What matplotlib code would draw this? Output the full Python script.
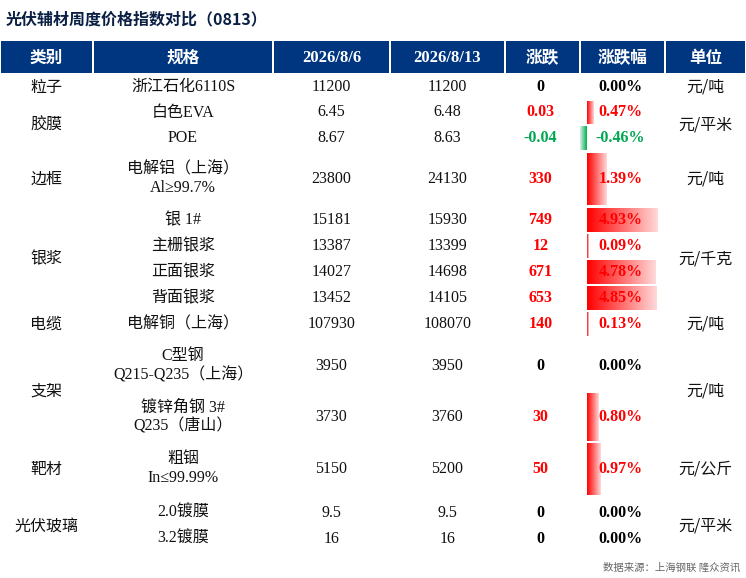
import matplotlib
matplotlib.use("Agg")
import matplotlib.pyplot as plt
import numpy as np

categories = ["粒子", "胶膜", "边框", "银浆", "电缆", "支架", "靶材", "光伏玻璃"]
specs = ["浙江石化6110S", "白色EVA", "POE", "电解铝（上海）\nAl≥99.7%", "银 1#", "主栅银浆", "正面银浆",
         "背面银浆", "电解铜（上海）", "C型钢\nQ215-Q235（上海）", "镀锌角钢 3#\nQ235（唐山）",
         "粗铟\nIn≤99.99%", "2.0镀膜", "3.2镀膜"]
prev = ["11200", "6.45", "8.67", "23800", "15181", "13387", "14027", "13452", "107930", "3950", "3730", "5150", "9.5", "16"]
curr = ["11200", "6.48", "8.63", "24130", "15930", "13399", "14698", "14105", "108070", "3950", "3760", "5200", "9.5", "16"]
change = ["0", "0.03", "-0.04", "330", "749", "12", "671", "653", "140", "0", "30", "50", "0", "0"]
pct = [0.00, 0.47, -0.46, 1.39, 4.93, 0.09, 4.78, 4.85, 0.13, 0.00, 0.80, 0.97, 0.00, 0.00]
headers = ["类别", "规格", "2026/8/6", "2026/8/13", "涨跌", "涨跌幅", "单位"]
units = ["元/吨", "元/平米", "元/吨", "元/千克", "元/吨", "元/吨", "元/公斤", "元/平米"]

col_edges = [0, 93, 273, 390, 505, 580, 665, 746]
row_bounds = [(74, 100), (100, 125), (125, 151), (152, 206), (207, 233), (233, 259), (259, 285), (285, 311),
              (311, 337), (340, 392), (392, 442), (442, 496), (500, 526), (526, 552)]
cat_rows = [(0, 0), (1, 2), (3, 3), (4, 7), (8, 8), (9, 10), (11, 11), (12, 13)]
unit_rows = [(0, 0), (1, 2), (3, 3), (4, 7), (8, 8), (9, 10), (11, 11), (12, 13)]

W, H = 746, 578
fig = plt.figure(figsize=(W / 100, H / 100), dpi=100)
ax = fig.add_axes([0, 0, 1, 1])
ax.set_xlim(0, W)
ax.set_ylim(H, 0)
ax.axis("off")

FS = ["Liberation Serif", "Noto Sans CJK SC"]
FC = ["Noto Sans CJK SC", "DejaVu Sans"]
F = 11.5

ax.text(6, 19, "光伏辅材周度价格指数对比（0813）", fontsize=11.5, fontweight="bold", color="#0A1F44",
        family=FC, va="center", ha="left")

for i, h in enumerate(headers):
    x0, x1 = col_edges[i], col_edges[i + 1]
    ax.add_patch(plt.Rectangle((x0 + 1, 41), x1 - x0 - 2, 32, color="#003580", lw=0))
    fam = FS if "/" in h else FC
    ax.text((x0 + x1) / 2, 58, h, color="white", fontsize=12, fontweight="bold", family=fam,
            ha="center", va="center")

def cx(i):
    return (col_edges[i] + col_edges[i + 1]) / 2

for (a, b), c in zip(cat_rows, categories):
    yc = (row_bounds[a][0] + row_bounds[b][1]) / 2
    ax.text(cx(0), yc, c, fontsize=F, family=FC, ha="center", va="center", color="#111")
for (a, b), u in zip(unit_rows, units):
    yc = (row_bounds[a][0] + row_bounds[b][1]) / 2
    ax.text(cx(6), yc, u, fontsize=F, family=FC, ha="center", va="center", color="#111")

bar_x0 = 587
scale = 14.3
red_grad = np.ones((1, 100, 4))
green_grad = np.ones((1, 100, 4))
for k in range(100):
    t = k / 99
    red_grad[0, k] = [1, 0.85 * t, 0.85 * t, 1]
    green_grad[0, k] = [0.85 * t, 0.69 + 0.25 * t, 0.31 + 0.6 * t, 1]

for r in range(len(specs)):
    y0, y1 = row_bounds[r]
    yc = (y0 + y1) / 2
    ax.text(cx(1), yc, specs[r], fontsize=F, family=FS, ha="center", va="center", color="#111",
            linespacing=1.25)
    ax.text(cx(2), yc, prev[r], fontsize=F, family=FS, ha="center", va="center", color="#111")
    ax.text(cx(3), yc, curr[r], fontsize=F, family=FS, ha="center", va="center", color="#111")
    v = pct[r]
    col = "#FF0000" if v > 0 else ("#00A651" if v < 0 else "black")
    ax.text(cx(4) - 2, yc, change[r], fontsize=F, fontweight="bold", family=FS, ha="center",
            va="center", color=col)
    if v > 0:
        ax.imshow(red_grad, extent=[bar_x0, bar_x0 + v * scale, y1 - 1, y0 + 1], aspect="auto", zorder=1)
    elif v < 0:
        ax.imshow(green_grad[:, ::-1], extent=[bar_x0 + v * scale, bar_x0, y1 - 1, y0 + 1], aspect="auto", zorder=1)
    ax.text(cx(5) - 2, yc, f"{v:.2f}%", fontsize=F, fontweight="bold", family=FS, ha="center",
            va="center", color=col, zorder=3)

ax.set_xlim(0, W)
ax.set_ylim(H, 0)
ax.text(740, 568, "数据来源：上海钢联 隆众资讯", fontsize=7.5, family=FC, ha="right", va="center", color="#666")

fig.savefig("out.png", dpi=100)
